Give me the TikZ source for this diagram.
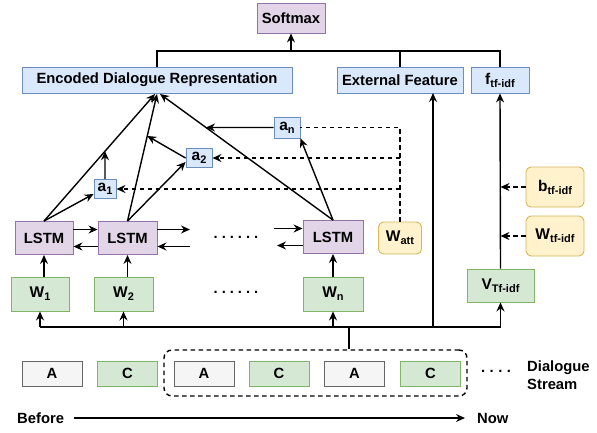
\documentclass[tikz,border=0pt]{standalone}
\usepackage{fontspec}
\setmainfont{Liberation Sans}
\usetikzlibrary{arrows.meta,calc}

% colour pairs (fill / stroke)
\definecolor{bluefill}{HTML}{DAE8FC}\definecolor{bluedraw}{HTML}{6C8EBF}
\definecolor{purpfill}{HTML}{E1D5E7}\definecolor{purpdraw}{HTML}{9673A6}
\definecolor{grnfill}{HTML}{D5E8D4}\definecolor{grndraw}{HTML}{82B366}
\definecolor{yelfill}{HTML}{FFF2CC}\definecolor{yeldraw}{HTML}{D6B656}
\definecolor{grayfill}{HTML}{F5F5F5}\definecolor{graydraw}{HTML}{666666}

% symbol with a lowered, smaller index
\newcommand{\symidx}[2]{{\fontsize{15.5}{17}\selectfont #1}\raisebox{-3pt}{\fontsize{11}{12}\selectfont #2}}

\tikzset{
  txt/.style={font=\fontsize{14.8}{17}\selectfont\bfseries, inner sep=0pt},
  box/.style={txt, draw, line width=0.9pt, minimum width=#1, align=center},
  bluebox/.style={box=#1, fill=bluefill, draw=bluedraw},
  purpbox/.style={box=#1, fill=purpfill, draw=purpdraw},
  grnbox/.style={box=#1, fill=grnfill, draw=grndraw},
  yelbox/.style={box=#1, fill=yelfill, draw=yeldraw, rounded corners=5pt},
  graybox/.style={box=#1, fill=grayfill, draw=graydraw},
  wire/.style={line width=1.4pt},
  arr/.style={wire, -{Stealth[length=9pt,width=8pt,inset=3pt]}},
  dashwire/.style={wire, dash pattern=on 4.5pt off 3.5pt},
}

\begin{document}
\begin{tikzpicture}[x=1pt,y=-1pt]
\useasboundingbox (0,0) rectangle (597,432);

% ---- top row ----
\node[purpbox=68pt, minimum height=30pt] (soft) at (291,18) {Softmax};
\node[bluebox=270pt, minimum height=26pt] (enc) at (157,80) {Encoded Dialogue Representation};
\node[bluebox=126pt, minimum height=26pt] (ext) at (400,80) {External Feature};
\node[bluebox=58pt, minimum height=26pt] (ftf) at (500,80) {\symidx{f}{tf-idf}};

% ---- attention weights ----
\node[bluebox=26pt, minimum height=21pt] (an) at (287,127.5) {\symidx{a}{n}};
\node[bluebox=26pt, minimum height=19pt] (a2) at (199,158) {\symidx{a}{2}};
\node[bluebox=22pt, minimum height=19pt] (a1) at (105,189) {\symidx{a}{1}};

% ---- recurrent layer ----
\node[purpbox=58pt, minimum height=33pt] (l1) at (44,238) {LSTM};
\node[purpbox=59pt, minimum height=33pt] (l2) at (127.5,238) {LSTM};
\node[purpbox=60pt, minimum height=33pt] (ln) at (333,237) {LSTM};
\node[yelbox=43pt, minimum height=32pt] (watt) at (400,238) {\symidx{W}{att}};

% ---- word inputs ----
\node[grnbox=58pt, minimum height=34pt] (w1) at (40,294) {\symidx{W}{1}};
\node[grnbox=59pt, minimum height=34pt] (w2) at (123.5,294) {\symidx{W}{2}};
\node[grnbox=60pt, minimum height=34pt] (wn) at (333,294) {\symidx{W}{n}};
\node[grnbox=67pt, minimum height=33pt] (v) at (500.5,285.5) {\symidx{V}{Tf-idf}};
\node[yelbox=58pt, minimum height=40pt] (b) at (555,187) {\symidx{b}{tf-idf}};
\node[yelbox=58pt, minimum height=40pt] (wt) at (555,236) {\symidx{W}{tf-idf}};

\node[txt] (dots1) at (236,237) {.\hspace{4pt}.\hspace{4pt}.\hspace{4pt}.\hspace{4pt}.\hspace{4pt}.};
\node[txt] (dots2) at (236,292) {.\hspace{4pt}.\hspace{4pt}.\hspace{4pt}.\hspace{4pt}.\hspace{4pt}.};

% ---- dialogue stream ----
\node[draw, dashwire, rounded corners=8pt, minimum width=303pt, minimum height=46pt] (stream) at (315.5,373) {};
\node[graybox=60pt, minimum height=25pt] (s1) at (52,373.5) {A};
\node[grnbox=60pt, minimum height=25pt] (s2) at (127.5,373.5) {C};
\node[graybox=60pt, minimum height=25pt] (s3) at (204,373.5) {A};
\node[grnbox=60pt, minimum height=25pt] (s4) at (279,373.5) {C};
\node[graybox=60pt, minimum height=25pt] (s5) at (354.5,373.5) {A};
\node[grnbox=60pt, minimum height=25pt] (s6) at (430.5,373.5) {C};
\node[txt] (dots3) at (496,371) {.\hspace{4.5pt}.\hspace{4.5pt}.\hspace{4.5pt}.};
\node[txt, align=left, anchor=west, font=\fontsize{14.8}{18}\selectfont\bfseries] (dstream) at (527,375) {Dialogue\\Stream};

\node[txt, anchor=west] (before) at (17,418) {Before};
\node[txt, anchor=west] (now) at (477,418) {Now};
\draw[arr] ([xshift=10pt]before.east) -- ([xshift=-12pt]now.west);

% ---- output merge ----
\coordinate (top) at (291,51);
\draw[wire] (enc.north) |- (top) -| (ftf.north);
\draw[wire] (ext.north) -- (ext.north |- top);
\draw[arr] (top) -- (soft.south);

% ---- input bus ----
\coordinate (busL) at (40,327);
\coordinate (busR) at (500.5,327);
\coordinate (tap) at (349,327);
\coordinate (extin) at (433,93);
\draw[wire] (busL) -- (busR);
\draw[arr] (busL) -- (w1.south);
\draw[arr] (w2.south |- busL) -- (w2.south);
\draw[arr] (wn.south |- busL) -- (wn.south);
\draw[arr] (extin |- busL) -- (extin);
\draw[arr] (busR) -- (v.south);
\draw[wire] (tap) -- (tap |- stream.north);

% ---- words into the recurrent layer ----
\draw[arr] (l1.south |- w1.north) -- (l1.south);
\draw[arr] (l2.south |- w2.north) -- (l2.south);
\draw[arr] (ln.south |- wn.north) -- (ln.south);

% ---- tf-idf branch ----
\draw[arr] (v.north) -- (ftf.south);
\draw[arr, dashwire] (b.west) -- (b.west -| v.north);
\draw[arr, dashwire] (wt.west) -- (wt.west -| v.north);

% ---- recurrent links ----
\coordinate (r2) at (190,229.5);
\coordinate (r2b) at (190,246.5);
\coordinate (rn) at (274,228.5);
\coordinate (rnb) at (277,245.5);
\draw[arr] ([yshift=8.5pt]l1.east) -- ([yshift=8.5pt]l2.west);
\draw[arr] ([yshift=-8.5pt]l2.west) -- ([yshift=-8.5pt]l1.east);
\draw[arr] ([yshift=8.5pt]l2.east) -- (r2);
\draw[arr] (r2b) -- ([yshift=-8.5pt]l2.east);
\draw[arr] (rn) -- ([yshift=8.5pt]ln.west);
\draw[arr] ([yshift=-8.5pt]ln.west) -- (rnb);

% ---- hidden states to encoding and attention ----
\coordinate (e1) at (155,94);
\coordinate (e2) at (157,94);
\coordinate (e3) at (160,94);
\draw[arr] (l1.north) -- (e1);
\draw[arr] (l2.north) -- (e2);
\draw[arr] (ln.north) -- (e3);
\draw[arr] (l1.north) -- ([yshift=-5pt]a1.west);
\draw[arr] (l2.north) -- ([yshift=-4pt]a2.west);
\draw[arr] (ln.north) -- (an.south east);
\draw[arr] (a1.north) -- (intersection of l1.north--e1 and a1.north--a1.south);
\draw[arr] (a2.west) -- ($(l2.north)!0.67!(e2)$);
\draw[arr] (an.west) -- (intersection of ln.north--e3 and an.west--an.east);

% ---- attention parameters ----
\draw[dashwire] (watt.north) -- (watt.north |- an.east) -- (an.east);
\draw[arr, dashwire] (watt.north |- a2.east) -- (a2.east);
\draw[arr, dashwire] (watt.north |- a1.east) -- (a1.east);
\end{tikzpicture}
\end{document}
